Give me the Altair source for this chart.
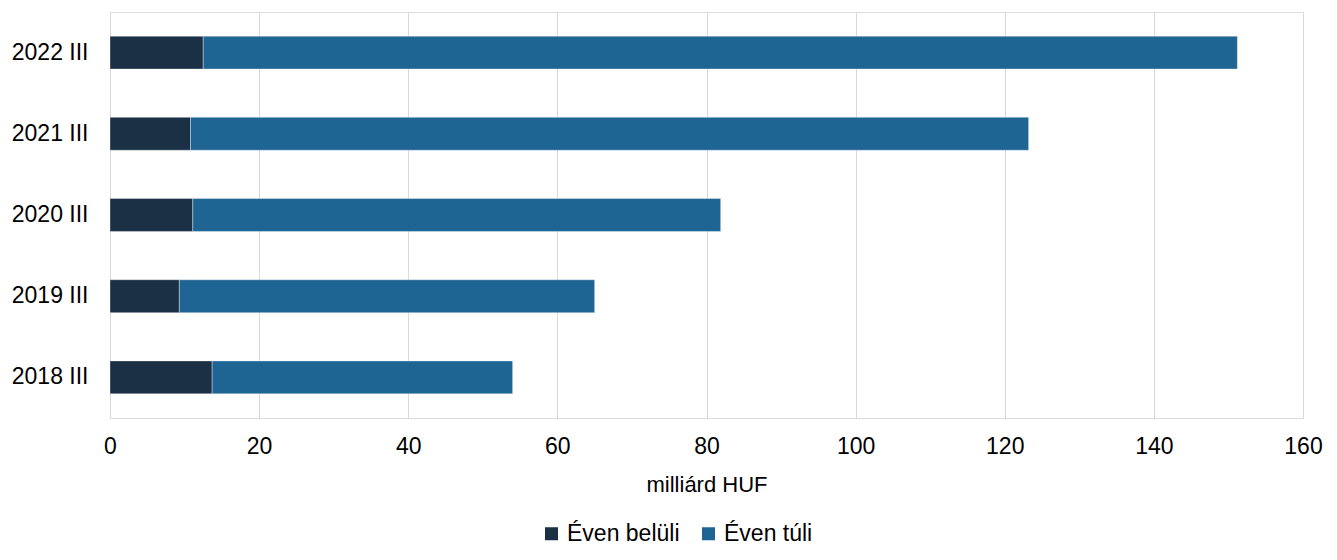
import altair as alt
import pandas as pd

periods = ["2022 III", "2021 III", "2020 III", "2019 III", "2018 III"]
within_year = [12.5, 10.8, 11.1, 9.3, 13.7]
beyond_year = [138.7, 112.4, 70.8, 55.7, 40.3]
series_names = ["Éven belüli", "Éven túli"]
series_colors = ["#1b2f45", "#1f6594"]
x_ticks = [0, 20, 40, 60, 80, 100, 120, 140, 160]

rows = []
for p, a, b in zip(periods, within_year, beyond_year):
    rows.append({"period": p, "series": series_names[0], "value": a, "ord": 0})
    rows.append({"period": p, "series": series_names[1], "value": b, "ord": 1})
df = pd.DataFrame(rows)

FONT = "Liberation Sans"

chart = alt.Chart(df).mark_bar(
    stroke="#ffffff", strokeWidth=0.8, strokeOpacity=0.45
).encode(
    y=alt.Y(
        "period:N",
        sort=periods,
        scale=alt.Scale(paddingInner=0.595, paddingOuter=0.2975),
        axis=alt.Axis(
            title=None, ticks=False, domain=False, grid=False,
            labelFont=FONT, labelFontSize=23, labelColor="#000000",
            labelPadding=22,
        ),
    ),
    x=alt.X(
        "value:Q",
        stack="zero",
        scale=alt.Scale(domain=[0, 160], nice=False),
        axis=alt.Axis(
            values=x_ticks, title="milliárd HUF", ticks=False, domain=False,
            grid=True, gridColor="#d9d9d9", gridWidth=1,
            labelFont=FONT, labelFontSize=23, labelColor="#000000",
            labelPadding=17, labelFlush=False, labelOverlap=False,
            titleFont=FONT, titleFontSize=22, titleFontWeight="normal",
            titleColor="#000000", titleBaseline="alphabetic", titleY=73,
        ),
    ),
    color=alt.Color(
        "series:N",
        scale=alt.Scale(domain=series_names, range=series_colors),
        sort=series_names,
        legend=alt.Legend(
            title=None, orient="none", direction="horizontal",
            legendX=430, legendY=510,
            symbolType="square", symbolSize=169, symbolStrokeWidth=0,
            labelFont=FONT, labelFontSize=23, labelColor="#000000",
            labelOffset=4, columnPadding=17,
        ),
    ),
    order=alt.Order("ord:Q", sort="ascending"),
).properties(
    width=1193,
    height=406,
    autosize=alt.AutoSizeParams(type="none"),
    padding={"left": 102, "top": 4, "right": 20, "bottom": 132},
).configure_view(stroke=None).configure(background="#ffffff")

chart.save("out.html", embed_options={"renderer": "svg", "actions": False})
